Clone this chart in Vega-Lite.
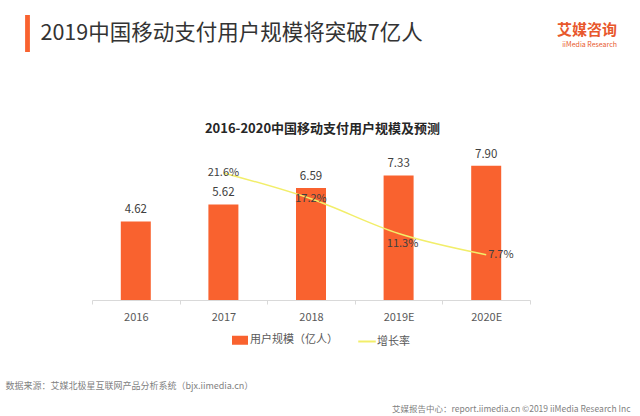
{
  "$schema": "https://vega.github.io/schema/vega-lite/v6.json",
  "autosize": {"type": "none"},
  "width": 438,
  "height": 153,
  "padding": {"left": 92, "top": 147, "right": 110, "bottom": 116},
  "background": "#ffffff",
  "config": {
    "font": "Noto Sans CJK SC",
    "view": {"stroke": null},
    "legend": {"padding": 0, "offset": 0, "title": null, "labelFont": "Noto Sans CJK SC"}
  },
  "title": {
    "text": "艾媒咨询",
    "subtitle": "iiMedia Research",
    "anchor": "end",
    "frame": "group",
    "color": "#E8582C",
    "subtitleColor": "#E8582C",
    "fontSize": 15,
    "subtitleFontSize": 7,
    "fontWeight": "bold",
    "subtitlePadding": 3,
    "offset": -33,
    "dx": 87
  },
  "data": {
    "values": [
      {"year": "2016", "users": 4.62, "growth": null},
      {"year": "2017", "users": 5.62, "growth": 0.216},
      {"year": "2018", "users": 6.59, "growth": 0.172},
      {"year": "2019E", "users": 7.33, "growth": 0.113},
      {"year": "2020E", "users": 7.9, "growth": 0.077}
    ]
  },
  "resolve": {"scale": {"y": "independent"}},
  "layer": [
    {
      "encoding": {
        "x": {
          "field": "year", "type": "ordinal", "sort": null,
          "scale": {"paddingInner": 0, "paddingOuter": 0},
          "axis": {
            "orient": "bottom",
            "labelAngle": 0,
            "labelFontSize": 11,
            "labelColor": "#595959",
            "labelPadding": 7,
            "domainColor": "#D9D9D9",
            "tickColor": "#D9D9D9",
            "tickSize": 4,
            "tickBand": "extent",
            "title": "数据来源：艾媒北极星互联网产品分析系统（bjx.iimedia.cn）",
            "titleFontSize": 9,
            "titleFontWeight": "normal",
            "titleColor": "#7F7F7F",
            "titleAlign": "left",
            "titleAnchor": "start",
            "titleBaseline": "alphabetic",
            "titleX": -87,
            "titleY": 88
          }
        },
        "y": {
          "field": "users", "type": "quantitative",
          "scale": {"domain": [0, 9], "nice": false, "zero": true},
          "axis": {
            "orient": "left",
            "labels": false, "ticks": false, "domain": false, "grid": false,
            "title": "2019中国移动支付用户规模将突破7亿人",
            "titleAngle": 0,
            "titleFontSize": 21.5,
            "titleFontWeight": "normal",
            "titleColor": "#333333",
            "titleAlign": "left",
            "titleBaseline": "alphabetic",
            "titleX": -52,
            "titleY": -108
          }
        }
      },
      "layer": [
        {
          "mark": {"type": "bar", "width": 30},
          "encoding": {
            "color": {
              "datum": "用户规模（亿人）",
              "type": "nominal",
              "scale": {"domain": ["用户规模（亿人）", "增长率"], "range": ["#F9622F", "#F2EE6A"]},
              "legend": {
                "orient": "none",
                "legendX": 140,
                "legendY": 185,
                "direction": "horizontal",
                "labelFontSize": 11,
                "labelColor": "#595959",
                "symbolSize": 196,
                "columnPadding": 16,
                "labelOffset": 2,
                "encode": {
                  "symbols": {
                    "update": {
                      "shape": {"signal": "datum.value === '增长率' ? 'M-1.25,0H1.25' : 'M-1,-0.5H1V0.5H-1Z'"},
                      "fill": {"signal": "datum.value === '增长率' ? 'transparent' : '#F9622F'"},
                      "stroke": {"signal": "datum.value === '增长率' ? '#F2EE6A' : 'transparent'"},
                      "strokeWidth": {"value": 2},
                      "opacity": {"value": 1}
                    }
                  }
                }
              }
            },
            "strokeDash": {
              "datum": "accent",
              "type": "nominal",
              "scale": {"domain": ["accent"], "range": [[1, 0]]},
              "legend": {
                "orient": "none",
                "legendX": -83,
                "legendY": -132,
                "symbolSize": 1369,
                "symbolType": "M-0.13,-1H0.13V1H-0.13Z",
                "symbolFillColor": "#EE6A3C",
                "symbolStrokeColor": "transparent",
                "symbolStrokeWidth": 0,
                "labelExpr": "''",
                "encode": {
                  "symbols": {
                    "update": {
                      "shape": {"signal": "'M-0.13,-1H0.13V1H-0.13Z'"},
                      "fill": {"value": "#EE6A3C"},
                      "stroke": {"value": "transparent"},
                      "opacity": {"value": 1}
                    }
                  }
                }
              }
            }
          }
        },
        {
          "mark": {"type": "text", "baseline": "bottom", "dy": -6, "fontSize": 11.5, "color": "#404040"},
          "encoding": {
            "text": {"field": "users", "type": "quantitative", "format": ".2f"}
          }
        }
      ]
    },
    {
      "transform": [{"filter": "datum.growth != null"}],
      "encoding": {
        "x": {
          "field": "year", "type": "ordinal", "sort": null,
          "axis": {
            "orient": "top",
            "labels": false, "ticks": false, "domain": false,
            "title": "2016-2020中国移动支付用户规模及预测",
            "titleFontSize": 13,
            "titleFontWeight": "bold",
            "titleColor": "#262626",
            "titleAlign": "center",
            "titleBaseline": "alphabetic",
            "titleX": 230,
            "titleY": -15
          }
        },
        "y": {
          "field": "growth", "type": "quantitative",
          "scale": {"domain": [0, 0.26], "nice": false, "zero": true},
          "axis": {
            "orient": "right",
            "labels": false, "ticks": false, "domain": false, "grid": false,
            "title": "艾媒报告中心：report.iimedia.cn  ©2019  iiMedia Research Inc",
            "titleAngle": 0,
            "titleFontSize": 8.5,
            "titleFontWeight": "normal",
            "titleColor": "#7F7F7F",
            "titleAlign": "right",
            "titleBaseline": "alphabetic",
            "titleX": 100,
            "titleY": 264
          }
        }
      },
      "layer": [
        {
          "mark": {"type": "line", "interpolate": "monotone", "strokeWidth": 1.5},
          "encoding": {
            "color": {"datum": "增长率", "type": "nominal"}
          }
        },
        {
          "transform": [{"filter": "datum.year === '2017' || datum.year === '2018'"}],
          "mark": {"type": "text", "fontSize": 11, "color": "#404040", "baseline": "middle"},
          "encoding": {
            "text": {"field": "growth", "type": "quantitative", "format": ".1%"}
          }
        },
        {
          "transform": [{"filter": "datum.year === '2019E'"}],
          "mark": {"type": "text", "fontSize": 11, "color": "#404040", "baseline": "middle", "dx": 4, "dy": 10},
          "encoding": {
            "text": {"field": "growth", "type": "quantitative", "format": ".1%"}
          }
        },
        {
          "transform": [{"filter": "datum.year === '2020E'"}],
          "mark": {"type": "text", "fontSize": 11, "color": "#404040", "baseline": "middle", "align": "left", "dx": 2},
          "encoding": {
            "text": {"field": "growth", "type": "quantitative", "format": ".1%"}
          }
        }
      ]
    }
  ]
}
